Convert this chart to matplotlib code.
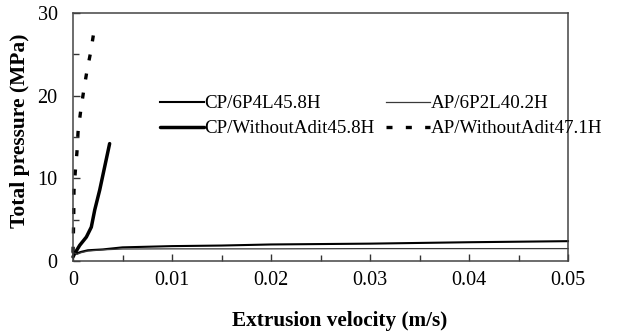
import matplotlib
matplotlib.use("Agg")
import matplotlib.pyplot as plt
from matplotlib.ticker import FixedLocator

plt.rcParams["font.family"] = ["Liberation Serif", "DejaVu Serif"]

# Extrusion velocity (m/s) and total pressure (MPa) for each case
cp_6p4l_x = [0, 0.0003, 0.0008, 0.0015, 0.003, 0.005, 0.01, 0.015, 0.02, 0.03, 0.04, 0.05]
cp_6p4l_y = [1.0, 0.9, 1.1, 1.3, 1.4, 1.65, 1.8, 1.87, 2.0, 2.1, 2.27, 2.4]

ap_6p2l_x = [0, 0.0004, 0.0008, 0.0015, 0.003, 0.005, 0.01, 0.02, 0.03, 0.04, 0.05]
ap_6p2l_y = [1.1, 0.8, 1.0, 1.2, 1.35, 1.45, 1.47, 1.47, 1.5, 1.5, 1.5]

cp_none_x = [0, 0.00017, 0.00068, 0.00135, 0.00185, 0.0022, 0.0027, 0.0032, 0.0037]
cp_none_y = [0.5, 0.9, 1.9, 2.9, 4.1, 6.2, 8.6, 11.4, 14.2]

ap_none_x = [0, 0.00007, 0.0001, 0.00023, 0.0004, 0.00051, 0.00078, 0.00108, 0.00141, 0.00179, 0.00212]
ap_none_y = [1.0, 4.9, 8.5, 10.8, 13.2, 15.6, 18.2, 20.6, 23.0, 25.3, 27.8]

x_ticks = [0, 0.01, 0.02, 0.03, 0.04, 0.05]
x_tick_labels = ["0", "0.01", "0.02", "0.03", "0.04", "0.05"]
y_ticks = [0, 10, 20, 30]
y_tick_labels = ["0", "10", "20", "30"]

fig = plt.figure(figsize=(6.28, 3.36), dpi=100)
ax = fig.add_axes([73 / 628, 1 - 261 / 336, 495 / 628, 248 / 336])

ax.plot(cp_6p4l_x, cp_6p4l_y, color="black", lw=1.5, label="CP/6P4L45.8H", clip_on=False)
ax.plot(cp_none_x, cp_none_y, color="black", lw=2.5, label="CP/WithoutAdit45.8H",
        solid_capstyle="round", clip_on=False)
ax.plot(ap_6p2l_x, ap_6p2l_y, color="#3a3a3a", lw=0.9, label="AP/6P2L40.2H", clip_on=False)
ax.plot(ap_none_x, ap_none_y, color="black", lw=2.4, label="AP/WithoutAdit47.1H",
        linestyle=(0, (1.8, 4.0)), clip_on=False)

ax.set_xlim(0, 0.05)
ax.set_ylim(0, 30)
ax.set_xticks(x_ticks)
ax.set_xticklabels(x_tick_labels)
ax.set_yticks(y_ticks)
ax.set_yticklabels(y_tick_labels)
ax.xaxis.set_minor_locator(FixedLocator([0.005, 0.015, 0.025, 0.035, 0.045]))
ax.yaxis.set_minor_locator(FixedLocator([5, 15, 25]))

ax.tick_params(axis="both", which="major", direction="in", length=5, width=1,
               labelsize=14.5, color="#333333")
ax.tick_params(axis="both", which="minor", direction="in", length=4, width=1,
               color="#333333")
ax.tick_params(axis="x", which="major", pad=7)
ax.tick_params(axis="y", which="major", pad=11)

for s in ax.spines.values():
    s.set_color("#444444")
    s.set_linewidth(1.1)

ax.set_xlabel("Extrusion velocity (m/s)", fontsize=15.3, fontweight="bold")
ax.set_ylabel("Total pressure (MPa)", fontsize=15.5, fontweight="bold")
ax.xaxis.set_label_coords((340 - 73) / 495, -(311 - 261) / 248)
ax.yaxis.set_label_coords(-(73 - 30) / 495, (261 - 131) / 248)

ax.legend(ncol=2, loc="upper left", frameon=False, fontsize=13.7,
          bbox_to_anchor=(160 / 628, 1 - 95 / 336), bbox_transform=fig.transFigure,
          borderpad=0, borderaxespad=0, handlelength=2.3, handletextpad=0.05,
          columnspacing=0.6, labelspacing=0.4)

fig.savefig("out.png", dpi=100)
